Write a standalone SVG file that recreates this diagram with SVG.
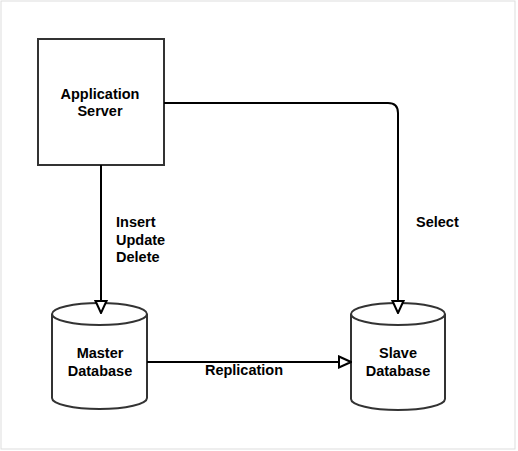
<svg xmlns="http://www.w3.org/2000/svg" width="518" height="451" viewBox="0 0 518 451">
<style>
text{font-family:"Liberation Sans",Arial,sans-serif;font-weight:bold;font-size:14.5px;fill:#000}
.node{fill:#fff;stroke:#333;stroke-width:2}
.edge{fill:none;stroke:#000;stroke-width:2}
</style>
<defs>
<marker id="arr" viewBox="0 0 14 14" refX="13" refY="7" markerWidth="14" markerHeight="14" markerUnits="userSpaceOnUse" orient="auto">
<path d="M1,1.5 L13,7 L1,12.5 Z" fill="#fff" stroke="#000" stroke-width="2"/>
</marker>
</defs>
<rect x="1" y="1" width="514" height="448" fill="#fff" stroke="#ddd" stroke-width="1"/>
<g id="app-server">
<rect class="node" x="38" y="39" width="126" height="126"/>
<text x="100" y="99" text-anchor="middle">Application</text>
<text x="100" y="116" text-anchor="middle">Server</text>
</g>
<g id="master-db">
<path class="node" d="M52,314 A47.5,11 0 0 1 147,314 V398 A47.5,11 0 0 1 52,398 Z"/>
<path class="node" d="M52,314 A47.5,11 0 0 0 147,314" fill="none"/>
<text x="100" y="358" text-anchor="middle">Master</text>
<text x="100" y="376" text-anchor="middle">Database</text>
</g>
<g id="slave-db">
<path class="node" d="M351,314 A47,11 0 0 1 445,314 V399 A47,11 0 0 1 351,399 Z"/>
<path class="node" d="M351,314 A47,11 0 0 0 445,314" fill="none"/>
<text x="398" y="358" text-anchor="middle">Slave</text>
<text x="398" y="376" text-anchor="middle">Database</text>
</g>
<g id="connectors">
<path class="edge" d="M101,165 V313" marker-end="url(#arr)"/>
<path class="edge" d="M164,103 H388 Q398,103 398,113 V313" marker-end="url(#arr)"/>
<path class="edge" d="M147,362 H351" marker-end="url(#arr)"/>
<text x="116" y="227">Insert</text>
<text x="116" y="245">Update</text>
<text x="116" y="262">Delete</text>
<text x="416" y="227">Select</text>
<text x="244" y="375" text-anchor="middle">Replication</text>
</g>
</svg>
